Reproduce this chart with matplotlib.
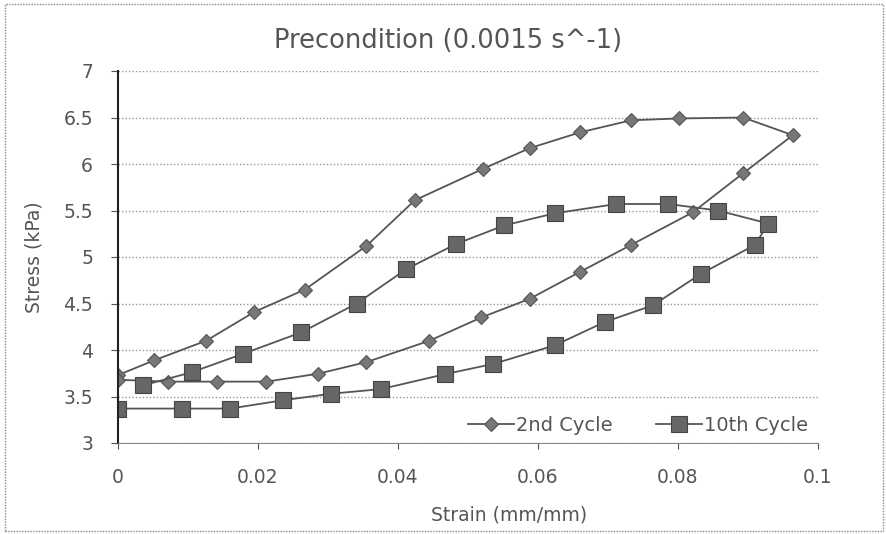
import matplotlib
matplotlib.use("Agg")
import matplotlib.pyplot as plt
from matplotlib.patches import Rectangle

# 2nd cycle: upper path out to the tip, then lower path back
strain_2nd = [0.0, 0.0052, 0.0126, 0.0195, 0.0267, 0.0355, 0.0424, 0.0522, 0.0588,
              0.0660, 0.0733, 0.0802, 0.0893, 0.0964,
              0.0893, 0.0821, 0.0733, 0.0660, 0.0588, 0.0519, 0.0445, 0.0355,
              0.0286, 0.0212, 0.0141, 0.0071, 0.0]
stress_2nd = [3.73, 3.89, 4.10, 4.41, 4.65, 5.12, 5.61, 5.95, 6.17,
              6.34, 6.47, 6.49, 6.50, 6.31,
              5.90, 5.48, 5.13, 4.84, 4.55, 4.35, 4.10, 3.87,
              3.745, 3.66, 3.66, 3.66, 3.68]

# 10th cycle: lower path out to the tip, then upper path back
strain_10th = [0.0, 0.0091, 0.0160, 0.0236, 0.0305, 0.0376, 0.0467, 0.0536, 0.0624,
               0.0695, 0.0764, 0.0833, 0.0910, 0.0929,
               0.0857, 0.0786, 0.0712, 0.0624, 0.0552, 0.0483, 0.0412, 0.0341,
               0.0262, 0.0179, 0.0105, 0.0036]
stress_10th = [3.37, 3.37, 3.37, 3.46, 3.53, 3.58, 3.74, 3.85, 4.05,
               4.30, 4.48, 4.82, 5.13, 5.36,
               5.50, 5.57, 5.57, 5.47, 5.34, 5.14, 4.87, 4.50,
               4.19, 3.96, 3.76, 3.62]

x_ticks = [0, 0.02, 0.04, 0.06, 0.08, 0.1]
x_labels = ["0", "0.02", "0.04", "0.06", "0.08", "0.1"]
y_ticks = [3, 3.5, 4, 4.5, 5, 5.5, 6, 6.5, 7]
y_labels = ["3", "3.5", "4", "4.5", "5", "5.5", "6", "6.5", "7"]

plt.rcParams["font.family"] = ["DejaVu Sans"]
txt = "#555555"

fig = plt.figure(figsize=(8.87, 5.34), dpi=100)
ax = fig.add_axes([118 / 887, 1 - 443 / 534, 700 / 887, 372 / 534])

# dotted frame around the whole chart
fig.patches.append(Rectangle((5 / 887, 3 / 534), 878 / 887, 527 / 534,
                             transform=fig.transFigure, fill=False,
                             edgecolor="#888888", lw=1, ls=(0, (1, 1))))

ax.plot(strain_2nd, stress_2nd, color="#555555", lw=1.3, marker="D",
        ms=7, mfc="#777777", mec="#555555", mew=0.8, label="2nd Cycle")
ax.plot(strain_10th, stress_10th, color="#555555", lw=1.3, marker="s",
        ms=11, mfc="#666666", mec="#444444", mew=0.8, label="10th Cycle")

ax.set_xlim(0, 0.1)
ax.set_ylim(3, 7)
ax.set_xticks(x_ticks)
ax.set_xticklabels(x_labels)
ax.set_yticks(y_ticks)
ax.set_yticklabels(y_labels)
ax.tick_params(axis="both", labelsize=13.5, colors=txt, length=5, direction="out")
ax.tick_params(axis="x", pad=14, length=4)
ax.tick_params(axis="y", pad=13)

ax.yaxis.grid(True, color="#999999", lw=1, ls=(0, (1, 1.5)))
ax.set_axisbelow(True)
for s in ["top", "right"]:
    ax.spines[s].set_visible(False)
ax.spines["left"].set_color("#222222")
ax.spines["left"].set_linewidth(1.5)
ax.spines["bottom"].set_color("#888888")
ax.spines["bottom"].set_linestyle((0, (1, 1)))

fig.text(448 / 887, 1 - 41 / 534, "Precondition (0.0015 s^-1)", fontsize=18.5,
         color=txt, ha="center", va="center")
ax.set_xlabel("Strain (mm/mm)", fontsize=13.5, color=txt)
ax.xaxis.set_label_coords((509 - 118) / 700, -(515 - 443) / 372)
ax.xaxis.label.set_va("center")
ax.set_ylabel("Stress (kPa)", fontsize=13.5, color=txt)
ax.yaxis.set_label_coords(-(118 - 34) / 700, 0.5)
ax.yaxis.label.set_va("center")

ax.legend(loc="lower right", ncol=2, frameon=False, fontsize=14,
          handlelength=2.4, handletextpad=0.1, columnspacing=2.2,
          borderaxespad=0.1, labelcolor=txt, bbox_to_anchor=(1.0, -0.005))

fig.savefig("out.png", dpi=100)
